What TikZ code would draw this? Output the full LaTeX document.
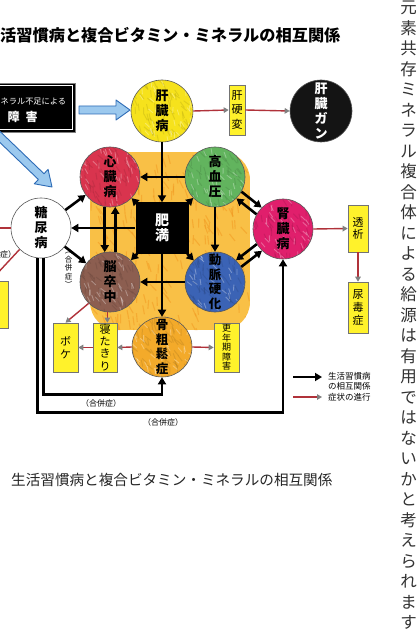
\documentclass[tikz,border=0pt]{standalone}
\usepackage{fontspec}
\newfontfamily\jp{Noto Sans CJK JP}
\usetikzlibrary{arrows.meta,calc}
\definecolor{cyel}{HTML}{F6E21C}
\definecolor{cred}{HTML}{D9344E}
\definecolor{cgreen}{HTML}{62B45E}
\definecolor{cmag}{HTML}{E01F6C}
\definecolor{cblue}{HTML}{3B63B5}
\definecolor{cbrown}{HTML}{8C5E50}
\definecolor{corg}{HTML}{F3AA2A}
\definecolor{bgorg}{HTML}{F9C046}
\definecolor{bgorgB}{HTML}{F29A22}
\definecolor{hiyel}{HTML}{FFF22B}
\definecolor{redarr}{HTML}{B0323A}
\definecolor{arrblue}{HTML}{2D6BB6}
\definecolor{arrlight}{HTML}{9CC9EE}
\tikzset{
  circ/.style={circle, draw=black!65, line width=.6pt, minimum size=60pt, inner sep=0pt, align=center,
    font=\jp\bfseries\fontsize{13}{15}\selectfont},
  circfour/.style={circ, font=\jp\bfseries\fontsize{12.5}{14.5}\selectfont},
  crayon/.style={path picture={
    \foreach \i in {1,...,70}{
      \pgfmathsetmacro\rx{31*rand}
      \pgfmathsetmacro\ry{31*rand}
      \pgfmathsetmacro\ang{65+30*rand}
      \draw[#1!75!black, line width=1pt, opacity=.35] ($(path picture bounding box.center)+(\rx,\ry)$) -- ++(\ang:7);
    }
    \foreach \i in {1,...,45}{
      \pgfmathsetmacro\rx{31*rand}
      \pgfmathsetmacro\ry{31*rand}
      \pgfmathsetmacro\ang{65+30*rand}
      \draw[white, line width=.9pt, opacity=.3] ($(path picture bounding box.center)+(\rx,\ry)$) -- ++(\ang:6);
    }}},
  blk/.style={line width=2.6pt, -{Triangle[length=7pt,width=8pt]}},
  rarr/.style={redarr, line width=1.4pt, -{Triangle[length=5pt,width=5.5pt,color=gray]}},
  ybox/.style={draw=black!55, line width=.6pt, fill=hiyel, inner sep=0pt, align=center,
    font=\jp\fontsize{11}{13}\selectfont},
  small/.style={font=\jp\fontsize{8}{9}\selectfont},
  blue arrow/.style={fill=arrlight, draw=arrblue, line width=.9pt, line join=round}
}
\begin{document}
\begin{tikzpicture}[x=1pt,y=-1pt]
\useasboundingbox (0,0) rectangle (416,636);
\fill[white] (0,0) rectangle (416,636);
\clip (0,0) rectangle (416,636);

% orange crayon background
\pgfmathsetseed{7}
\begin{scope}
\clip[rounded corners=28pt] (90,152) rectangle (250,330);
\fill[bgorg] (90,152) rectangle (250,330);
\foreach \i in {1,...,260}{
  \pgfmathsetmacro\xa{90+160*rnd}
  \pgfmathsetmacro\ya{152+178*rnd}
  \pgfmathsetmacro\ang{70+25*rand}
  \draw[bgorgB, line width=1.1pt, opacity=.55] (\xa,\ya) -- ++(\ang:9);
}
\end{scope}

% title
\node[anchor=west, inner sep=0pt, font=\jp\bfseries\fontsize{16.2}{18}\selectfont] (title) at (0,35) {活習慣病と複合ビタミン・ミネラルの相互関係};

% black label box
\node[draw=black!50, fill=black, minimum width=115pt, minimum height=49pt, inner sep=0pt] (shougai) at (17.5,107.5) {};
\draw[white, line width=.6pt] ($(shougai.north west)+(2.5,2.5)$) rectangle ($(shougai.south east)+(-2.5,-2.5)$);
\node[anchor=west, inner sep=0pt, text=white, font=\jp\fontsize{8.2}{10}\selectfont] (shtxt) at (0.5,102) {ネラル不足による};
\node[anchor=west, text=white, font=\jp\bfseries\fontsize{12}{14}\selectfont] (shtxtb) at (4,117) {障\hspace{6pt}害};

% blue arrows
\draw[blue arrow] (79,106) -- (116,106) -- (116,100) -- (130,110) -- (116,120) -- (116,114) -- (79,114) -- cycle;
\draw[blue arrow] (-15.7,127.5) -- (38.4,179.5) -- (34.3,183.8) -- (52,187) -- (48.1,169.4) -- (44.0,173.7) -- (-10.1,121.7) -- cycle;

% circles
\node[circ, fill=cyel, crayon=cyel, minimum size=62pt] (kanzo) at (162,111) {肝\\臓\\病};
\node[circ, fill=black!92, minimum size=62pt, text=white] (gan) at (321,111) {肝\\臓\\ガ\\ン};
\node[circ, fill=cred, crayon=cred] (shin) at (110,177) {心\\臓\\病};
\node[circ, fill=cgreen, crayon=cgreen] (kou) at (215,177) {高\\血\\圧};
\node[circ, fill=white] (tou) at (41,228) {糖\\尿\\病};
\node[fill=black, minimum width=53pt, minimum height=51pt, inner sep=0pt, align=center, text=white,
  font=\jp\bfseries\fontsize{14}{15}\selectfont] (himan) at (162,228) {肥\\満};
\node[circ, fill=cmag, crayon=cmag] (jin) at (283,229) {腎\\臓\\病};
\node[circ, fill=cbrown, crayon=cbrown] (nou) at (110,282) {脳\\卒\\中};
\node[circfour, fill=cblue, crayon=cblue] (dou) at (215,282) {動\\脈\\硬\\化};
\node[circfour, fill=corg, crayon=corg] (kotsu) at (162,347) {骨\\粗\\鬆\\症};

% yellow boxes
\node[ybox, minimum width=16pt, minimum height=50pt, font=\jp\fontsize{11}{14.5}\selectfont] (kankou) at (237,110) {肝\\硬\\変};
\node[ybox, minimum width=25pt, minimum height=49pt] (boke) at (65.5,347.5) {ボ\\ケ};
\node[ybox, minimum width=24pt, minimum height=49pt, font=\jp\fontsize{11}{12.3}\selectfont] (netaki) at (105,347.5) {寝\\た\\き\\り};
\node[ybox, minimum width=25pt, minimum height=49pt, font=\jp\fontsize{9}{9.4}\selectfont] (kounen) at (226.5,347.5) {更\\年\\期\\障\\害};
\node[ybox, minimum width=20pt, minimum height=47pt, font=\jp\fontsize{11}{12}\selectfont] (touseki) at (358,228.5) {透\\析};
\node[ybox, minimum width=20pt, minimum height=51pt, font=\jp\fontsize{11}{13}\selectfont] (nyou) at (358,307.5) {尿\\毒\\症};
\node[ybox, minimum width=30pt, minimum height=47pt] (lbox) at (-7,304.5) {};

% black relation arrows
\draw[blk] (kanzo.south) -- (himan.north);
\draw[blk] (kou.west) -- (shin.east);
\draw[blk] (himan.west) -- (tou.east);
\draw[blk] (dou.west) -- (nou.east);
\draw[blk] (himan.south) -- (kotsu.north);
\draw[blk] (kou.south) -- (dou.north);
\draw[blk] (shin.260) -- (nou.100);
\draw[blk] (nou.80) -- (shin.280);
\draw[blk] (himan) -- (shin);
\draw[blk] (himan) -- (kou);
\draw[blk] (himan) -- (nou);
\draw[blk] (himan) -- (dou);
\draw[blk] (tou) -- (shin);
\draw[blk] (tou) -- (nou);
\draw[blk] (kou.-29) -- (jin.135);
\draw[blk] (jin.151) -- (kou.-45);
\draw[blk] (jin.210) -- (dou.46);
\draw[blk] (dou.30) -- (jin.226);
\draw[blk] ($(tou.south)+(2.5,0)$) -- ++(0,136) -| (kotsu.south);
\draw[blk] ($(tou.south)+(-3.5,0)$) -- ++(0,154) -| (jin.south);

% red progression arrows
\draw[rarr] (kanzo.east) -- (kankou.west);
\draw[rarr] (kankou.east) -- (gan.west);
\draw[rarr] (jin.east) -- (touseki.west);
\draw[rarr] (touseki.south) -- (nyou.north);
\draw[rarr] (nou.225) -- (boke.north);
\draw[rarr] (nou.265) -- (nou.265 |- netaki.north);
\draw[rarr] (kotsu.west) -- (netaki.east);
\draw[rarr] (netaki.west) -- (boke.east);
\draw[rarr] (kotsu.east) -- (kounen.west);
\coordinate (lefta) at (-6,228);
\coordinate (leftb) at (-6,277);
\draw[rarr] (tou.west) -- (lefta);
\draw[rarr] (tou.225) -- (leftb);

% small labels
\node[inner sep=0pt, align=center, font=\jp\fontsize{7.5}{8.6}\selectfont] (gp1) at (68.5,270) {︵\\合\\併\\症\\︶};
\node[small, anchor=west, inner sep=0pt] (gp0) at (0,254) {症）};
\node[small] (gp2) at (101,403) {（合併症）};
\node[small] (gp3) at (163,422) {（合併症）};

% legend
\coordinate (la) at (293,377);
\coordinate (lb) at (322,377);
\coordinate (lc) at (293,397);
\coordinate (ld) at (322,397);
\draw[blk] (la) -- (lb);
\draw[rarr, line width=1.8pt] (lc) -- (ld);
\node[anchor=west, align=left, inner sep=0pt, font=\jp\fontsize{8.5}{10}\selectfont] (leg1) at (328,381) {生活習慣病\\の相互関係};
\node[anchor=west, inner sep=0pt, font=\jp\fontsize{8.5}{10}\selectfont] (leg2) at (328,397) {症状の進行};

% caption
\node[anchor=west, inner sep=0pt, text=black!85, font=\jp\fontsize{14.6}{16}\selectfont] (cap) at (11,480) {生活習慣病と複合ビタミン・ミネラルの相互関係};

% right vertical column
\node[anchor=north, inner sep=0pt, align=center, text=black!80, font=\jp\fontsize{16.5}{20.5}\selectfont] (side) at (408.5,1)
 {元\\素\\共\\存\\ミ\\ネ\\ラ\\ル\\複\\合\\体\\に\\よ\\る\\給\\源\\は\\有\\用\\で\\は\\な\\い\\か\\と\\考\\え\\ら\\れ\\ま\\す};
\end{tikzpicture}
\end{document}
